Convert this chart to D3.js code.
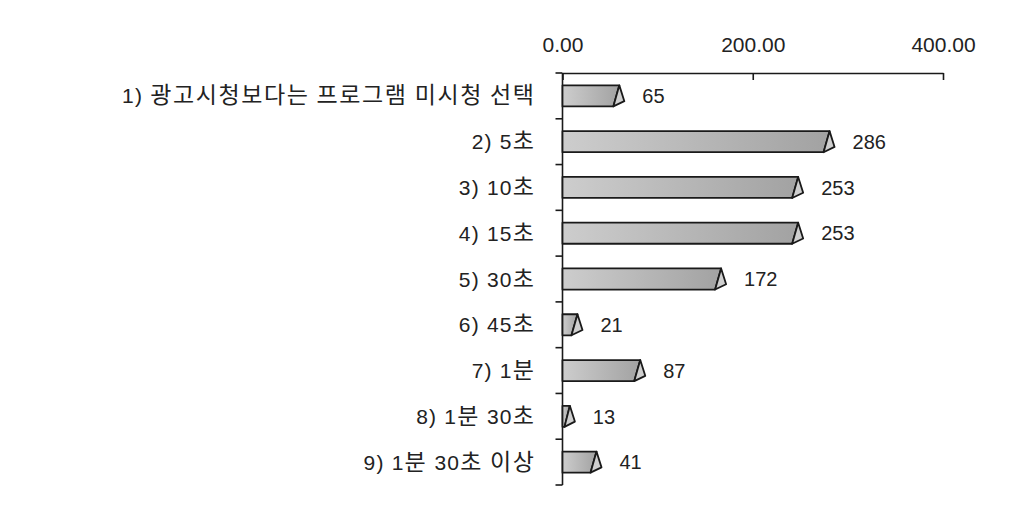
<!DOCTYPE html>
<html>
<head>
<meta charset="utf-8">
<script src="https://d3js.org/d3.v7.min.js"></script>
<style>
  body { margin: 0; background: #fff; }
  svg { display: block; }
  text { font-family: "Liberation Sans", "Noto Sans CJK KR", sans-serif; fill: #222; }
</style>
</head>
<body>
<svg id="chart" width="1024" height="512"></svg>
<script>
// chart data
const categories = [
  "1) 광고시청보다는 프로그램 미시청 선택",
  "2) 5초",
  "3) 10초",
  "4) 15초",
  "5) 30초",
  "6) 45초",
  "7) 1분",
  "8) 1분 30초",
  "9) 1분 30초 이상"
];
const values = [65, 286, 253, 253, 172, 21, 87, 13, 41];
const tickValues = [0, 200, 400];

const svg = d3.select("#chart");

// plot area
const plotLeft = 562.5, plotRight = 943, plotTop = 73, plotBottom = 485;

const x = d3.scaleLinear().domain([0, 400]).range([plotLeft, plotRight]);
const y = d3.scaleBand().domain(categories).range([plotTop, plotBottom]).paddingInner(0.54).paddingOuter(0.27);

// gradient for bar faces
const grad = svg.append("defs").append("linearGradient")
  .attr("id", "barGrad").attr("x1", "0%").attr("x2", "100%");
grad.append("stop").attr("offset", "0%").attr("stop-color", "#cdcdcd");
grad.append("stop").attr("offset", "100%").attr("stop-color", "#a2a2a2");

// top value axis
const xAxis = svg.append("g")
  .attr("transform", `translate(0,${plotTop})`)
  .call(d3.axisTop(x).tickValues(tickValues).tickFormat(d3.format(".2f")).tickSizeInner(-7).tickSizeOuter(0).tickPadding(21));
xAxis.select(".domain").attr("stroke", "#1a1a1a").attr("stroke-width", 1.6);
xAxis.selectAll(".tick line").attr("stroke", "#1a1a1a").attr("stroke-width", 1.6);
xAxis.selectAll(".tick text").attr("font-size", 21).attr("dy", "0").style("fill", "#222")
  .style("font-family", "'Liberation Sans', sans-serif");

// left category axis, ticks sit between the bands
const yAxis = svg.append("g").attr("transform", `translate(${plotLeft},0)`);
yAxis.append("line")
  .attr("y1", plotTop).attr("y2", plotBottom)
  .attr("stroke", "#1a1a1a").attr("stroke-width", 1.6);
const step = (plotBottom - plotTop) / categories.length;
yAxis.selectAll(".sep").data(d3.range(categories.length + 1)).join("line")
  .attr("class", "sep")
  .attr("x1", -7).attr("x2", 0)
  .attr("y1", i => plotTop + i * step).attr("y2", i => plotTop + i * step)
  .attr("stroke", "#1a1a1a").attr("stroke-width", 1.6);

// labels: hangul runs get a slightly larger size so widths match the original font
const labels = yAxis.selectAll(".lbl").data(categories).join("text")
  .attr("class", "lbl")
  .attr("x", -27)
  .attr("y", d => y(d) + y.bandwidth() / 2)
  .attr("dy", "0.36em")
  .attr("text-anchor", "end")
  .attr("font-size", 21)
  .attr("letter-spacing", 1.2);
labels.selectAll("tspan")
  .data(d => d.split(/([가-힣]+)/).filter(s => s.length))
  .join("tspan")
  .attr("font-size", s => /[가-힣]/.test(s) ? 23 : 21)
  .attr("letter-spacing", s => /[가-힣]/.test(s) ? 1.6 : 1.2)
  .text(s => s);

// bars: a front face plus a small triangular end
const bars = svg.append("g").selectAll("g").data(values).join("g");
const h = y.bandwidth();

bars.append("path")
  .attr("d", (d, i) => {
    const y0 = y(categories[i]), xe = x(d);
    const xb = Math.max(xe - 11, plotLeft + 2);
    return `M${plotLeft},${y0}L${xe - 5},${y0}L${xb},${y0 + h}L${plotLeft},${y0 + h}Z`;
  })
  .attr("fill", "url(#barGrad)")
  .attr("stroke", "#1a1a1a").attr("stroke-width", 1.8).attr("stroke-linejoin", "round");

bars.append("path")
  .attr("d", (d, i) => {
    const y0 = y(categories[i]), xe = x(d);
    const xb = Math.max(xe - 11, plotLeft + 2);
    return `M${xe - 5},${y0}L${xe},${y0 + h * 0.75}L${xb},${y0 + h}Z`;
  })
  .attr("fill", "#cfcfcf")
  .attr("stroke", "#1a1a1a").attr("stroke-width", 1.8).attr("stroke-linejoin", "round");

// value labels
bars.append("text")
  .attr("x", d => x(d) + 18)
  .attr("y", (d, i) => y(categories[i]) + h / 2)
  .attr("dy", "0.36em")
  .attr("font-size", 20)
  .text(d => d);
</script>
</body>
</html>
